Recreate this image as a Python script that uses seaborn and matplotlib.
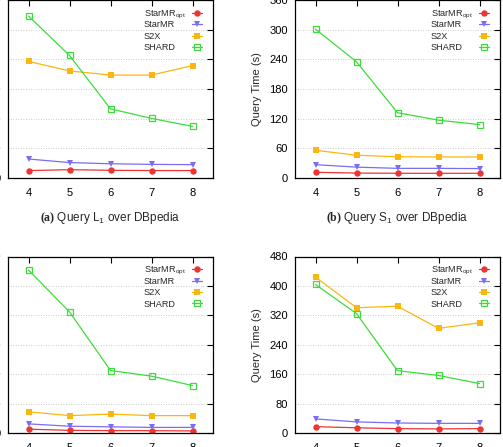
import matplotlib
matplotlib.use("Agg")
import matplotlib.pyplot as plt
from matplotlib.transforms import Bbox
import seaborn as sns
import pandas as pd

# ---- data ----
workers = [4, 5, 6, 7, 8]
series = ["StarMR$_{\\rm opt}$", "StarMR", "S2X", "SHARD"]

# (a) Query L1 over DBpedia (axis labels cropped in reference; scale estimated)
a_starmr_opt = [25, 28, 26, 25, 25]
a_starmr = [64, 52, 48, 46, 45]
a_s2x = [393, 361, 347, 347, 379]
a_shard = [546, 413, 233, 201, 174]

# (b) Query S1 over DBpedia
b_starmr_opt = [11.5, 10, 9.5, 9.5, 9.5]
b_starmr = [27, 22, 19.5, 19.5, 19]
b_s2x = [56, 46, 43, 42.5, 42.5]
b_shard = [301, 235, 132, 117, 108]

# (c) left-bottom panel (axis labels cropped; scale estimated)
c_starmr_opt = [14, 10, 9, 9, 8]
c_starmr = [32, 24, 22, 20, 20]
c_s2x = [73, 60, 65, 60, 60]
c_shard = [554, 412, 213, 194, 162]

# (d) right-bottom panel
d_starmr_opt = [18, 15, 12.6, 12, 12.6]
d_starmr = [39, 31, 28, 27, 27]
d_s2x = [424, 341, 345, 285, 300]
d_shard = [404, 325, 170, 157, 135]

captions = [r"$\mathbf{(a)}$ Query L$_1$ over DBpedia",
            r"$\mathbf{(b)}$ Query S$_1$ over DBpedia"]

sns.set_theme(style="white")
plt.rcParams["font.family"] = ["Liberation Sans", "DejaVu Sans"]
plt.rcParams["mathtext.fontset"] = "custom"
plt.rcParams["mathtext.rm"] = "Liberation Sans"
plt.rcParams["mathtext.it"] = "Liberation Sans:italic"
plt.rcParams["mathtext.bf"] = "Liberation Serif:bold"

colors = ["#ee3333", "#7b6cf2", "#fbb710", "#3ddc3d"]
markers = ["o", "v", "s", "s"]

W, H = 503, 447
fig = plt.figure(figsize=(W / 100, H / 100), dpi=100)


def px_axes(x0, y0, x1, y1):
    return fig.add_axes([x0 / W, 1 - y1 / H, (x1 - x0) / W, (y1 - y0) / H])


panels = [
    (px_axes(8, 0, 213, 178), [a_starmr_opt, a_starmr, a_s2x, a_shard], 600, 100, False),
    (px_axes(295, 0, 500, 178), [b_starmr_opt, b_starmr, b_s2x, b_shard], 360, 60, True),
    (px_axes(8, 256.5, 213, 433.3), [c_starmr_opt, c_starmr, c_s2x, c_shard], 600, 100, False),
    (px_axes(295, 256.5, 500, 433.3), [d_starmr_opt, d_starmr, d_s2x, d_shard], 480, 80, True),
]

legends = []
for ax, vals, ymax, step, show_ylabel in panels:
    for name, v, c, m in zip(series, vals, colors, markers):
        hollow = (name == "SHARD")
        df = pd.DataFrame({"Workers": workers, "Time": v})
        sns.lineplot(data=df, x="Workers", y="Time", ax=ax, color=c, lw=0.9,
                     marker=m, markersize=4.6 if not hollow else 5.0,
                     markerfacecolor="none" if hollow else c,
                     markeredgecolor=c, markeredgewidth=0.9 if hollow else 0,
                     label=name)
    ax.set_xlim(3.5, 8.5)
    ax.set_ylim(0, ymax)
    ax.set_xticks(workers)
    ax.set_yticks(list(range(0, ymax + 1, step)))
    ax.grid(axis="y", color="#bbbbbb", linestyle=(0, (1, 2)), linewidth=0.6)
    ax.grid(axis="x", visible=False)
    ax.tick_params(axis="both", direction="in", length=4, width=0.8,
                   top=True, right=True, labelsize=8, colors="black")
    ax.tick_params(axis="x", pad=7)
    ax.tick_params(axis="y", pad=5)
    for s in ax.spines.values():
        s.set_color("black")
        s.set_linewidth(0.9)
    ax.set_xlabel("")
    if show_ylabel:
        ax.set_ylabel("Query Time (s)", fontsize=8, labelpad=5.5)
    else:
        ax.set_ylabel("")
    leg = ax.legend(loc="upper right", bbox_to_anchor=(0.946, 0.949), frameon=False,
                    markerfirst=False, fontsize=6.6, handlelength=1.1,
                    handletextpad=0.7, labelspacing=0.26, borderaxespad=0.0,
                    borderpad=0.0)
    legends.append(leg)

# captions under the top panels
fig.text((8 + 213) / 2 / W, 1 - 221 / H, captions[0], ha="center", va="baseline", fontsize=8.5)
fig.text((295 + 500) / 2 / W, 1 - 221 / H, captions[1], ha="center", va="baseline", fontsize=8.5)

# gnuplot-like legend: left-aligned labels, samples on the right, even row pitch
fig.canvas.draw()
renderer = fig.canvas.get_renderer()
for leg in legends:
    col = leg._legend_handle_box.get_children()[0]
    rows = col.get_children()
    tareas = [r.get_children()[0] for r in rows]
    widths = [t._text.get_window_extent(renderer).width for t in tareas]
    maxw = max(widths)
    for r, w in zip(rows, widths):
        r.sep = r.sep + (maxw - w) * 72.0 / fig.dpi
    ref_ta = tareas[1]

    def fixed_bbox(renderer, _orig=tareas[0].get_bbox, _ref=ref_ta.get_bbox):
        b = _orig(renderer)
        rb = _ref(renderer)
        return Bbox.from_bounds(b.x0, rb.y0, b.width, rb.height)

    tareas[0].get_bbox = fixed_bbox

fig.savefig("out.png", dpi=100)
